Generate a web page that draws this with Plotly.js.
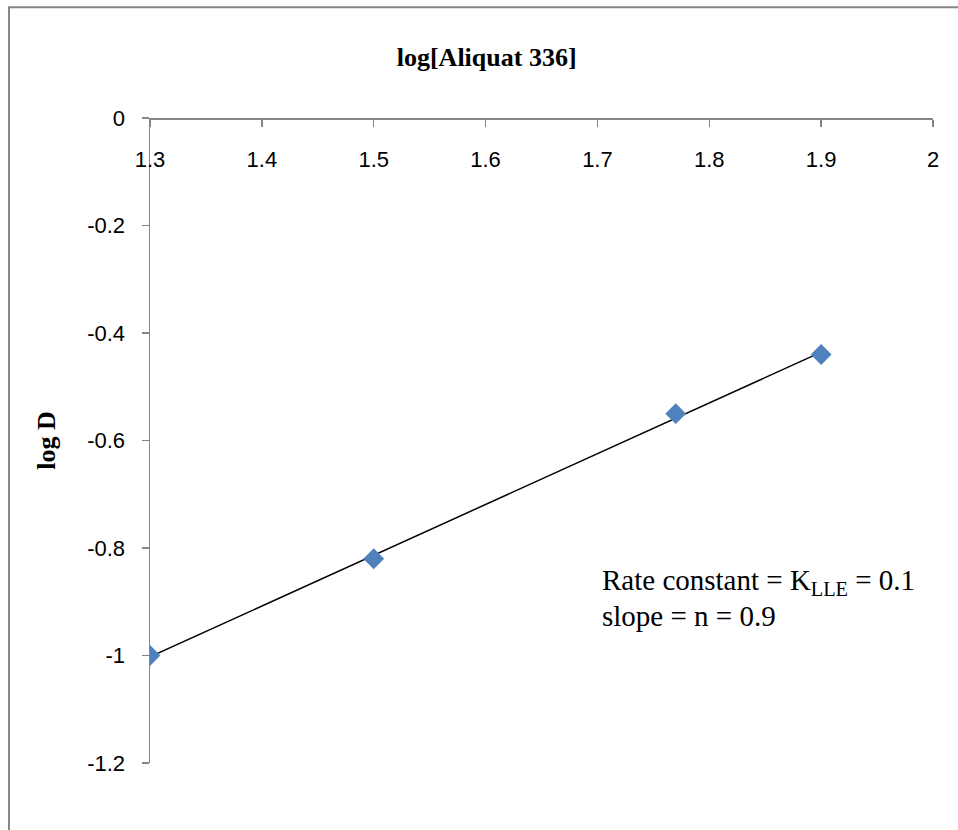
<!DOCTYPE html>
<html>
<head>
<meta charset="utf-8">
<script src="https://cdn.plot.ly/plotly-3.0.1.min.js"></script>
<style>html,body{margin:0;padding:0;background:#fff;}#chart{width:958px;height:830px;}</style>
</head>
<body>
<div id="chart"></div>
<script>
// Data
const logAliquat = [1.3, 1.5, 1.77, 1.9];
const logD = [-1.0, -0.82, -0.55, -0.44];
const xTickVals = [1.3, 1.4, 1.5, 1.6, 1.7, 1.8, 1.9, 2.0];
const xTickText = ["1.3", "1.4", "1.5", "1.6", "1.7", "1.8", "1.9", "2"];
const yTickVals = [0, -0.2, -0.4, -0.6, -0.8, -1.0, -1.2];
const yTickText = ["0", "-0.2", "-0.4", "-0.6", "-0.8", "-1", "-1.2"];
const noteLine1 = "Rate constant = K<sub>LLE</sub> = 0.1";
const noteLine2 = "slope = n = 0.9";

// Linear least-squares trend line
const n = logAliquat.length;
const mx = logAliquat.reduce((a, b) => a + b, 0) / n;
const my = logD.reduce((a, b) => a + b, 0) / n;
let sxy = 0, sxx = 0;
for (let i = 0; i < n; i++) { sxy += (logAliquat[i] - mx) * (logD[i] - my); sxx += (logAliquat[i] - mx) ** 2; }
const slope = sxy / sxx, icpt = my - slope * mx;
const xMin = Math.min(...logAliquat), xMax = Math.max(...logAliquat);
const trendX = [xMin, xMax];
const trendY = trendX.map(x => icpt + slope * x);

const axisGray = '#868686';
const traces = [
  {x: trendX, y: trendY, mode: 'lines', type: 'scatter', line: {color: '#000000', width: 1.5}, hoverinfo: 'skip', showlegend: false},
  {x: logAliquat, y: logD, mode: 'markers', type: 'scatter', marker: {symbol: 'diamond', size: 16, color: '#4F81BD', line: {width: 0}}, showlegend: false}
];

const layout = {
  width: 958, height: 830,
  margin: {l: 150, r: 25, t: 118, b: 67},
  paper_bgcolor: '#ffffff', plot_bgcolor: '#ffffff',
  showlegend: false,
  title: {text: '<b>log[Aliquat 336]</b>', x: 0.508, xanchor: 'center', y: 0.932, yanchor: 'middle',
          font: {family: 'Liberation Serif, Times New Roman, serif', size: 26, color: '#000000'}},
  xaxis: {
    range: [1.3, 2.0], tickvals: xTickVals, ticktext: xTickText,
    anchor: 'free', position: 1, side: 'bottom',
    showline: true, linecolor: axisGray, linewidth: 1.5,
    ticks: 'outside', ticklen: 7, tickcolor: axisGray, tickwidth: 1.5,
    ticklabelstandoff: 14,
    showgrid: false, zeroline: false,
    tickfont: {family: 'Liberation Sans, Arial, sans-serif', size: 22, color: '#000000'}
  },
  yaxis: {
    range: [-1.2, 0], tickvals: yTickVals, ticktext: yTickText,
    showline: true, linecolor: axisGray, linewidth: 1.5,
    ticks: 'outside', ticklen: 7, tickcolor: axisGray, tickwidth: 1.5,
    ticklabelstandoff: 12,
    showgrid: false, zeroline: false,
    tickfont: {family: 'Liberation Sans, Arial, sans-serif', size: 22, color: '#000000'},
    title: {text: '<b>log D</b>', standoff: 24, font: {family: 'Liberation Serif, Times New Roman, serif', size: 26, color: '#000000'}}
  },
  shapes: [
    {type: 'rect', xref: 'paper', yref: 'paper', x0: -0.1801, x1: 1.04, y0: -0.12, y1: 1.1716,
     line: {color: '#878787', width: 2}, fillcolor: 'rgba(0,0,0,0)', layer: 'below'}
  ],
  annotations: [
    {text: noteLine1, x: 1.7025, y: -0.863, xref: 'x', yref: 'y', xanchor: 'left', yanchor: 'middle', showarrow: false,
     font: {family: 'Liberation Serif, Times New Roman, serif', size: 29, color: '#000000'}},
    {text: noteLine2, x: 1.7025, y: -0.926, xref: 'x', yref: 'y', xanchor: 'left', yanchor: 'middle', showarrow: false,
     font: {family: 'Liberation Serif, Times New Roman, serif', size: 29, color: '#000000'}}
  ]
};

Plotly.newPlot('chart', traces, layout, {displayModeBar: false, staticPlot: true});
</script>
</body>
</html>
